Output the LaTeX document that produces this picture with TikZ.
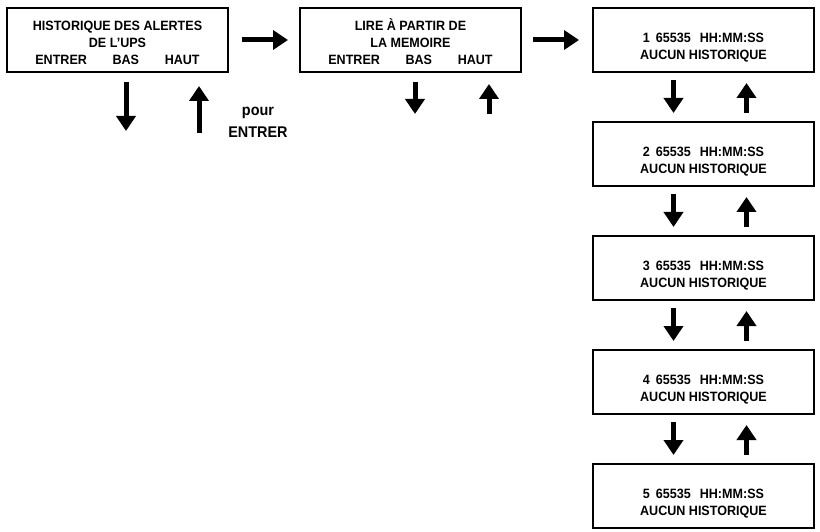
\documentclass[tikz,border=0pt]{standalone}
\usepackage{fontspec}
\setmainfont[FakeStretch=0.93]{Liberation Sans}
\usetikzlibrary{arrows.meta,positioning}
\tikzset{
  screenbox/.style={draw=black,line width=2pt,align=center,minimum width=221pt,
    minimum height=64pt,inner sep=0pt,font=\fontsize{13.5}{17}\selectfont\bfseries},
  navarrow/.style={-{Triangle[width=19pt,length=15pt]},line width=5pt},
  notelabel/.style={font=\fontsize{15.5}{22}\selectfont\bfseries,align=center}
}
\newcommand{\histligne}[1]{\rule{0pt}{24pt}#1\hspace{6pt}65535\hspace{9pt}HH:MM:SS\\AUCUN HISTORIQUE}

\begin{document}
\begin{tikzpicture}[x=1pt,y=-1pt,node distance=48pt and 70pt]
  \useasboundingbox (0,0) rectangle (820,532);
  \node[screenbox] (alertes) at (117.5,40) {\rule{0pt}{15pt}HISTORIQUE DES ALERTES\\DE L'UPS\\ENTRER\hspace{1.9em}BAS\hspace{1.9em}HAUT};
  \node[screenbox,right=of alertes] (memoire) {\rule{0pt}{15pt}LIRE À PARTIR DE\\LA MEMOIRE\\ENTRER\hspace{1.9em}BAS\hspace{1.9em}HAUT};
  \node[screenbox,right=of memoire] (hist1) {\histligne{1}};
  \node[screenbox,below=of hist1] (hist2) {\histligne{2}};
  \node[screenbox,below=of hist2] (hist3) {\histligne{3}};
  \node[screenbox,below=of hist3] (hist4) {\histligne{4}};
  \node[screenbox,below=of hist4] (hist5) {\histligne{5}};
  \node[notelabel] (pour) at (258,122) {pour\\ENTRER};

  % menu suivant
  \draw[navarrow,shorten <=13pt,shorten >=11pt] (alertes) -- (memoire);
  \draw[navarrow,shorten <=11pt,shorten >=13pt] (memoire) -- (hist1);

  % bas / haut sous les deux premiers menus
  \coordinate (alertesbas) at ([xshift=8.5pt,yshift=-58pt]alertes.south);
  \coordinate (alerteshaut) at ([xshift=81.5pt,yshift=-60pt]alertes.south);
  \draw[navarrow,shorten <=9pt] ([xshift=8.5pt]alertes.south) -- (alertesbas);
  \draw[navarrow,shorten >=13pt] (alerteshaut) -- ([xshift=81.5pt]alertes.south);
  \coordinate (memoirebas) at ([xshift=4.5pt,yshift=-41pt]memoire.south);
  \coordinate (memoirehaut) at ([xshift=78.5pt,yshift=-41pt]memoire.south);
  \draw[navarrow,shorten <=9pt] ([xshift=4.5pt]memoire.south) -- (memoirebas);
  \draw[navarrow,shorten >=11pt] (memoirehaut) -- ([xshift=78.5pt]memoire.south);

  % parcours de l'historique
  \foreach \a/\b in {hist1/hist2,hist2/hist3,hist3/hist4,hist4/hist5}{
    \draw[navarrow,shorten <=7pt,shorten >=8pt] ([xshift=-30pt]\a.south) -- ([xshift=-30pt]\b.north);
    \draw[navarrow,shorten <=8pt,shorten >=10pt] ([xshift=43pt]\b.north) -- ([xshift=43pt]\a.south);
  }
\end{tikzpicture}
\end{document}
